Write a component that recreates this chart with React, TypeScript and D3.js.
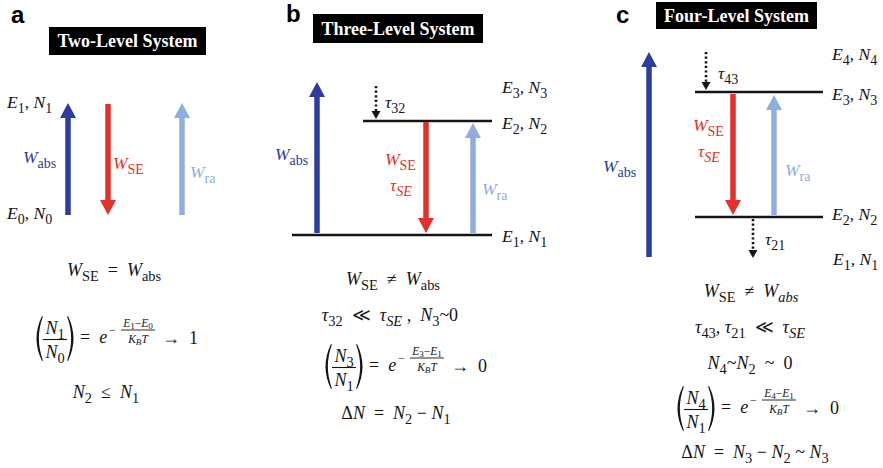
import React from 'react';
import * as d3 from 'd3';

// ---- content -------------------------------------------------------------
type Tok = [string, string?]; // [text, style]  style: 'i' italic, 's' subscript, 'si' italic subscript

const panelLetters = ['a', 'b', 'c'];
const panelTitles = ['Two-Level System', 'Three-Level System', 'Four-Level System'];

// energy-level indices shown beside each diagram (top to bottom)
const levelsA = ['1', '0'];
const levelsB = ['3', '2', '1'];
const levelsC = ['4', '3', '2', '1'];

// relaxation lifetimes (non-radiative, dotted arrows)
const tauB = ['32'];
const tauC = ['43', '21'];

const SP = '\u2002';
const eqA: Tok[][] = [
  [['W', 'i'], ['SE', 's'], [`${SP}=${SP}`], ['W', 'i'], ['abs', 's']],
  [['N', 'i'], ['2', 's'], [`${SP}≤${SP}`], ['N', 'i'], ['1', 's']],
];
const eqB: Tok[][] = [
  [['W', 'i'], ['SE', 's'], [`${SP}≠${SP}`], ['W', 'i'], ['abs', 's']],
  [['τ', 'i'], ['32', 's'], [`${SP}≪${SP}`], ['τ', 'i'], ['SE', 'si'], [` ,${SP}`], ['N', 'i'], ['3', 's'], ['~0']],
  [['Δ'], ['N', 'i'], [`${SP}=${SP}`], ['N', 'i'], ['2', 's'], [` − `], ['N', 'i'], ['1', 's']],
];
const eqC: Tok[][] = [
  [['W', 'i'], ['SE', 's'], [`${SP}≠${SP}`], ['W', 'i'], ['abs', 'si']],
  [['τ', 'i'], ['43', 's'], [', '], ['τ', 'i'], ['21', 's'], [`${SP}≪${SP}`], ['τ', 'i'], ['SE', 'si']],
  [['N', 'i'], ['4', 's'], ['~'], ['N', 'i'], ['2', 's'], [`${SP}~${SP}0`]],
  [['Δ'], ['N', 'i'], [`${SP}=${SP}`], ['N', 'i'], ['3', 's'], [` − `], ['N', 'i'], ['2', 's'], [` ~ `], ['N', 'i'], ['3', 's']],
];

// Boltzmann population ratios: [upper, lower, limit]
const ratioA = ['1', '0', '1'];
const ratioB = ['3', '1', '0'];
const ratioC = ['4', '1', '0'];

// ---- style ---------------------------------------------------------------
const C_ABS = '#2c3c9f';
const C_SE = '#e4302a';
const C_RA = '#8eaee0';
const INK = '#151515';
const MATH_FONT = "'Liberation Serif', 'DejaVu Serif', serif";
const SIZE = 17.5;
const EQ = 18;

const levelTok = (k: string): Tok[] => [['E', 'i'], [k, 's'], [', '], ['N', 'i'], [k, 's']];
const tauTok = (k: string): Tok[] => [['τ', 'i'], [k, 's']];
const wTok = (sub: string): Tok[] => [['W', 'i'], [sub, 's']];
const tauSE: Tok[] = [['τ', 'i'], ['SE', 'si']];

function MathText({ x, y, toks, size = SIZE, fill = INK, anchor = 'start' }:
  { x: number; y: number; toks: Tok[]; size?: number; fill?: string; anchor?: string }) {
  let prevSub = false;
  const off = size * 0.26;
  return (
    <text x={x} y={y} fontSize={size} fill={fill} textAnchor={anchor as any}
      fontFamily={MATH_FONT} style={{ whiteSpace: 'pre' }}>
      {toks.map(([t, st = ''], i) => {
        const sub = st.includes('s');
        const ital = st.includes('i');
        let dy = 0;
        if (sub && !prevSub) dy = off;
        else if (!sub && prevSub) dy = -off;
        prevSub = sub;
        return (
          <tspan key={i} dy={dy || undefined} fontSize={sub ? size * 0.8 : undefined}
            fontStyle={ital ? 'italic' : 'normal'}>{t}</tspan>
        );
      })}
    </text>
  );
}

function blockArrow(x: number, y0: number, y1: number, shaft = 5.5, headW = 16, headL = 15) {
  const dir = Math.sign(y1 - y0);
  const yb = y1 - dir * headL;
  const p = d3.path();
  p.moveTo(x - shaft / 2, y0);
  p.lineTo(x - shaft / 2, yb);
  p.lineTo(x - headW / 2, yb);
  p.lineTo(x, y1);
  p.lineTo(x + headW / 2, yb);
  p.lineTo(x + shaft / 2, yb);
  p.lineTo(x + shaft / 2, y0);
  p.closePath();
  return p.toString();
}

function Arrow({ x, y0, y1, color }: { x: number; y0: number; y1: number; color: string }) {
  return <path d={blockArrow(x, y0, y1)} fill={color} />;
}

function DottedArrow({ x, y0, y1 }: { x: number; y0: number; y1: number }) {
  const headL = 8;
  const head = d3.path();
  head.moveTo(x - 4.5, y1 - headL);
  head.lineTo(x + 4.5, y1 - headL);
  head.lineTo(x, y1);
  head.closePath();
  return (
    <g>
      <line x1={x} x2={x} y1={y0} y2={y1 - headL} stroke={INK} strokeWidth={2.6}
        strokeDasharray="2.2 2.4" />
      <path d={head.toString()} fill={INK} />
    </g>
  );
}

function Level({ x0, x1, y }: { x0: number; x1: number; y: number }) {
  return <line x1={x0} x2={x1} y1={y} y2={y} stroke={INK} strokeWidth={2.6} />;
}

function Title({ x, y, w, h, text }: { x: number; y: number; w: number; h: number; text: string }) {
  return (
    <g>
      <rect x={x} y={y} width={w} height={h} fill="#000" />
      <text x={x + w / 2} y={y + h / 2 + 6} textAnchor="middle" fill="#fff" fontSize={18}
        fontWeight="bold" fontFamily="'Liberation Serif', 'Times New Roman', serif">{text}</text>
    </g>
  );
}

function Letter({ x, y, t }: { x: number; y: number; t: string }) {
  return (
    <text x={x} y={y} fontSize={24} fontWeight="bold" fill="#000"
      fontFamily="'Liberation Sans', Arial, sans-serif">{t}</text>
  );
}

function paren(x: number, top: number, bot: number, left: boolean) {
  const mid = (top + bot) / 2;
  const s = left ? 1 : -1;
  const p = d3.path();
  p.moveTo(x + s * 8, top);
  p.quadraticCurveTo(x - s * 3, mid, x + s * 8, bot);
  p.lineTo(x + s * 8.9, bot - 0.6);
  p.quadraticCurveTo(x + s * 0.8, mid, x + s * 8.9, top + 0.6);
  p.closePath();
  return p.toString();
}

// (N_u / N_l) = e^{-(E_u - E_l)/(K_B T)} -> limit
function Boltzmann({ x0, y, r, lowE }: { x0: number; y: number; r: string[]; lowE: string }) {
  const [u, l, lim] = r;
  const es = 11.5;
  return (
    <g>
      <path d={paren(x0, y - 27, y + 18, true)} fill={INK} />
      <path d={paren(x0 + 42, y - 27, y + 18, false)} fill={INK} />
      <MathText x={x0 + 21} y={y - 9} anchor="middle" size={EQ} toks={[['N', 'i'], [u, 's']]} />
      <line x1={x0 + 9} x2={x0 + 33} y1={y - 3.5} y2={y - 3.5} stroke={INK} strokeWidth={1.1} />
      <MathText x={x0 + 21} y={y + 15} anchor="middle" size={EQ} toks={[['N', 'i'], [l, 's']]} />
      <MathText x={x0 + 46} y={y} size={EQ} toks={[[`=${SP}`], ['e', 'i']]} />
      <MathText x={x0 + 75} y={y - 9.5} size={12} toks={[['−']]} />
      <MathText x={x0 + 104} y={y - 16.5} size={es} anchor="middle"
        toks={[['E', 'i'], [u, 's'], ['−'], ['E', 'i'], [lowE, 's']]} />
      <line x1={x0 + 87} x2={x0 + 121} y1={y - 13} y2={y - 13} stroke={INK} strokeWidth={0.9} />
      <MathText x={x0 + 104} y={y - 0.5} size={es} anchor="middle"
        toks={[['K', 'i'], ['B', 'si'], ['T', 'i']]} />
      <MathText x={x0 + 128} y={y + 1} size={EQ} toks={[[`→${SP}`], [lim]]} />
    </g>
  );
}

export default function App() {
  return (
    <svg width={883} height={468} viewBox="0 0 883 468"
      style={{ position: 'absolute', left: 0, top: 0, background: '#fff' }}>
      <rect width={883} height={468} fill="#fff" />

      {/* ---------------- a: two-level system ---------------- */}
      <Letter x={11} y={23} t={panelLetters[0]} />
      <Title x={49} y={27} w={157} h={28} text={panelTitles[0]} />
      <MathText x={7} y={108} toks={levelTok(levelsA[0])} />
      <MathText x={7} y={219} toks={levelTok(levelsA[1])} />
      <Arrow x={68} y0={215} y1={103} color={C_ABS} />
      <Arrow x={108} y0={104} y1={215} color={C_SE} />
      <Arrow x={182} y0={215} y1={103} color={C_RA} />
      <MathText x={23} y={163} toks={wTok('abs')} fill={C_ABS} />
      <MathText x={113} y={169} toks={wTok('SE')} fill={C_SE} />
      <MathText x={190} y={178} toks={wTok('ra')} fill={C_RA} />
      <MathText x={114} y={276} anchor="middle" size={EQ} toks={eqA[0]} />
      <Boltzmann x0={34} y={343} r={ratioA} lowE="0" />
      <MathText x={106} y={398} anchor="middle" size={EQ} toks={eqA[1]} />

      {/* ---------------- b: three-level system ---------------- */}
      <Letter x={286} y={22} t={panelLetters[1]} />
      <Title x={313} y={14} w={170} h={29} text={panelTitles[1]} />
      <Level x0={292} x1={492} y={235} />
      <Level x0={363} x1={492} y={121} />
      <Arrow x={317} y0={233} y1={82} color={C_ABS} />
      <Arrow x={426} y0={122} y1={233} color={C_SE} />
      <Arrow x={473} y0={233} y1={123} color={C_RA} />
      <DottedArrow x={376} y0={86} y1={119} />
      <MathText x={385} y={108} toks={tauTok(tauB[0])} />
      <MathText x={502} y={93} toks={levelTok(levelsB[0])} />
      <MathText x={502} y={129} toks={levelTok(levelsB[1])} />
      <MathText x={502} y={242} toks={levelTok(levelsB[2])} />
      <MathText x={275} y={160} toks={wTok('abs')} fill={C_ABS} />
      <MathText x={385} y={165} toks={wTok('SE')} fill={C_SE} />
      <MathText x={390} y={191} toks={tauSE} fill={C_SE} />
      <MathText x={482} y={195} toks={wTok('ra')} fill={C_RA} />
      <MathText x={393} y={285} anchor="middle" size={EQ} toks={eqB[0]} />
      <MathText x={390} y={321} anchor="middle" size={EQ} toks={eqB[1]} />
      <Boltzmann x0={323} y={371} r={ratioB} lowE="1" />
      <MathText x={396} y={419} anchor="middle" size={EQ} toks={eqB[2]} />

      {/* ---------------- c: four-level system ---------------- */}
      <Letter x={616} y={23} t={panelLetters[2]} />
      <Title x={656} y={2} w={161} h={27} text={panelTitles[2]} />
      <Level x0={695} x1={823} y={92} />
      <Level x0={695} x1={823} y={217} />
      <Arrow x={649} y0={257} y1={52} color={C_ABS} />
      <Arrow x={733} y0={94} y1={215} color={C_SE} />
      <Arrow x={774} y0={215} y1={95} color={C_RA} />
      <DottedArrow x={706} y0={52} y1={90} />
      <DottedArrow x={753} y0={219} y1={258} />
      <MathText x={718} y={79} toks={tauTok(tauC[0])} />
      <MathText x={765} y={245} toks={tauTok(tauC[1])} />
      <MathText x={832} y={60} toks={levelTok(levelsC[0])} />
      <MathText x={832} y={100} toks={levelTok(levelsC[1])} />
      <MathText x={832} y={220} toks={levelTok(levelsC[2])} />
      <MathText x={833} y={265} toks={levelTok(levelsC[3])} />
      <MathText x={603} y={172} toks={wTok('abs')} fill={C_ABS} />
      <MathText x={693} y={131} toks={wTok('SE')} fill={C_SE} />
      <MathText x={698} y={157} toks={tauSE} fill={C_SE} />
      <MathText x={785} y={176} toks={wTok('ra')} fill={C_RA} />
      <MathText x={751} y={297} anchor="middle" size={EQ} toks={eqC[0]} />
      <MathText x={750} y={333} anchor="middle" size={EQ} toks={eqC[1]} />
      <MathText x={750} y={369} anchor="middle" size={EQ} toks={eqC[2]} />
      <Boltzmann x0={675} y={413} r={ratioC} lowE="1" />
      <MathText x={755} y={458} anchor="middle" size={EQ} toks={eqC[3]} />
    </svg>
  );
}
